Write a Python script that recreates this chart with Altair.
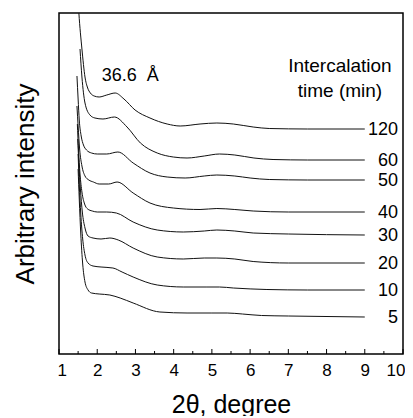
import altair as alt
import pandas as pd

FONT = "Liberation Sans"

series_names = ["120", "60", "50", "40", "30", "20", "10", "5"]

x_120 = [1.49, 1.52, 1.60, 1.68, 1.75, 1.82, 1.92, 2.05, 2.25, 2.47, 2.70, 2.99, 3.38, 3.83, 4.17, 4.69, 5.13, 5.56, 6.08, 6.50, 7.50, 9.00]
y_120 = [360, 341, 305, 277, 266, 261, 258, 257, 259, 261, 255, 244, 236, 230, 228, 230, 231, 230, 227, 225.5, 225, 225]

x_60 = [1.55, 1.60, 1.68, 1.81, 1.94, 2.15, 2.45, 2.78, 3.13, 3.57, 3.99, 4.35, 4.80, 5.20, 5.60, 6.10, 6.60, 7.50, 9.00]
y_60 = [305, 277, 251, 239, 236, 235, 237, 227, 211, 201, 197, 196, 198, 200, 199, 196, 194.5, 194, 194]

x_50 = [1.47, 1.50, 1.53, 1.58, 1.64, 1.72, 1.85, 2.00, 2.25, 2.54, 2.94, 3.38, 3.83, 4.30, 4.80, 5.13, 5.60, 6.00, 6.50, 7.50, 9.00]
y_50 = [278, 255, 234, 218, 209, 204, 201, 200, 200, 202, 191, 181, 177, 176, 178, 179, 178, 176, 174.5, 174, 174]

x_40 = [1.47, 1.50, 1.54, 1.60, 1.68, 1.78, 1.90, 2.05, 2.30, 2.52, 2.94, 3.38, 3.99, 4.69, 5.13, 5.60, 6.08, 7.00, 9.00]
y_40 = [248, 228, 205, 188, 178, 174, 172, 170, 170, 172, 161, 151, 146, 144.5, 145.5, 144.5, 143, 142, 142]

x_30 = [1.48, 1.51, 1.55, 1.60, 1.67, 1.75, 1.87, 2.00, 2.25, 2.50, 2.94, 3.57, 4.25, 4.80, 5.13, 5.60, 6.08, 7.00, 9.00]
y_30 = [230, 205, 180, 162, 150, 145, 143, 142, 142, 141, 132, 124, 122, 123, 124, 123, 121, 120, 119]

x_20 = [1.49, 1.52, 1.56, 1.61, 1.68, 1.76, 1.89, 2.10, 2.33, 2.55, 2.94, 3.57, 4.25, 4.80, 5.13, 5.60, 6.08, 7.00, 9.00]
y_20 = [215, 190, 165, 142, 126, 118, 116, 115, 116, 114, 106, 97, 95, 96, 96, 95, 92.5, 91, 91]

x_10 = [1.50, 1.53, 1.57, 1.62, 1.68, 1.76, 1.89, 2.10, 2.41, 2.65, 2.94, 3.57, 4.25, 4.87, 5.20, 5.56, 6.44, 7.50, 9.00]
y_10 = [200, 170, 140, 115, 99, 91, 88, 87, 86, 82, 77, 69, 67, 67, 67, 66, 64.5, 64, 64]

x_5 = [1.50, 1.53, 1.57, 1.62, 1.68, 1.76, 1.85, 2.05, 2.33, 2.60, 2.94, 3.64, 4.35, 5.00, 5.40, 5.80, 6.30, 7.00, 9.00]
y_5 = [185, 155, 120, 90, 72, 64, 61, 60, 59, 56, 51, 42, 41, 41, 41, 40, 38.5, 38, 37]

major_ticks = [1, 2, 3, 4, 5, 6, 7, 8, 9, 10]
minor_ticks = [1.5, 2.5, 3.5, 4.5, 5.5, 6.5, 7.5, 8.5, 9.5]

curves = {
    "120": (x_120, y_120), "60": (x_60, y_60), "50": (x_50, y_50), "40": (x_40, y_40),
    "30": (x_30, y_30), "20": (x_20, y_20), "10": (x_10, y_10), "5": (x_5, y_5),
}

rows = []
for name in series_names:
    xs, ys = curves[name]
    for i, (xv, yv) in enumerate(zip(xs, ys)):
        rows.append({"series": name, "x": xv, "y": yv, "i": i})
df = pd.DataFrame(rows)

end_df = pd.DataFrame({
    "series": series_names,
    "y": [curves[n][1][-1] for n in series_names],
    "x": [10] * len(series_names),
})

xscale = alt.Scale(domain=[1, 10], nice=False, zero=False)
yscale = alt.Scale(domain=[0, 341], nice=False, zero=False)

xaxis = alt.Axis(values=major_ticks, tickSize=0, domain=False, grid=False,
                 labelFont=FONT, labelFontSize=17, labelColor="black", labelPadding=8,
                 labelFlush=True, labelFlushOffset=2, labelOverlap=False, labelBound=False,
                 format="d",
                 title="2θ, degree", titleFont=FONT, titleFontSize=25,
                 titleFontWeight="normal", titleColor="black", titlePadding=14)
yaxis = alt.Axis(labels=False, ticks=False, domain=False, grid=False,
                 title="Arbitrary intensity", titleFont=FONT, titleFontSize=26,
                 titleFontWeight="normal", titleColor="black", titlePadding=21)


def X(field):
    return alt.X(field, scale=xscale, axis=xaxis)


def Y(field):
    return alt.Y(field, scale=yscale, axis=yaxis)


lines = alt.Chart(df).mark_line(clip=True, interpolate="monotone", color="#111",
                                strokeWidth=1).encode(
    x=X("x:Q"), y=Y("y:Q"), detail="series:N", order="i:Q")

labels = alt.Chart(end_df).mark_text(font=FONT, fontSize=18, align="right",
                                     baseline="middle", dx=-5, dy=1, color="black").encode(
    x=X("x:Q"), y=Y("y:Q"), text="series:N")

ann_df = pd.DataFrame({"x": [2.12], "y": [273], "t": ["36.6\u00a0\u00a0Å"]})
ann = alt.Chart(ann_df).mark_text(font=FONT, fontSize=18, align="left",
                                  baseline="alphabetic", color="black").encode(
    x=X("x:Q"), y=Y("y:Q"), text="t:N")

leg_df = pd.DataFrame({"x": [8.35, 8.35], "y": [282, 257],
                       "t": ["Intercalation", "time (min)"]})
leg = alt.Chart(leg_df).mark_text(font=FONT, fontSize=19, align="center",
                                  baseline="alphabetic", color="black").encode(
    x=X("x:Q"), y=Y("y:Q"), text="t:N")

tick_df = pd.DataFrame({
    "x": major_ticks + minor_ticks,
    "y0": [0] * (len(major_ticks) + len(minor_ticks)),
    "y1": [5] * len(major_ticks) + [3] * len(minor_ticks),
})
ticks = alt.Chart(tick_df).mark_rule(color="black", strokeWidth=1).encode(
    x=X("x:Q"), y=Y("y0:Q"), y2="y1:Q")

chart = alt.layer(lines, ticks, labels, ann, leg).properties(
    width=344, height=341,
    autosize=alt.AutoSizeParams(type="none"),
    padding={"left": 51, "top": 5, "right": 2, "bottom": 62},
    background="white",
).configure_view(stroke="black", strokeWidth=1.5
).configure_axisX(labelOverlap=False)

chart.save("out.html", embed_options={"renderer": "svg", "actions": False})
